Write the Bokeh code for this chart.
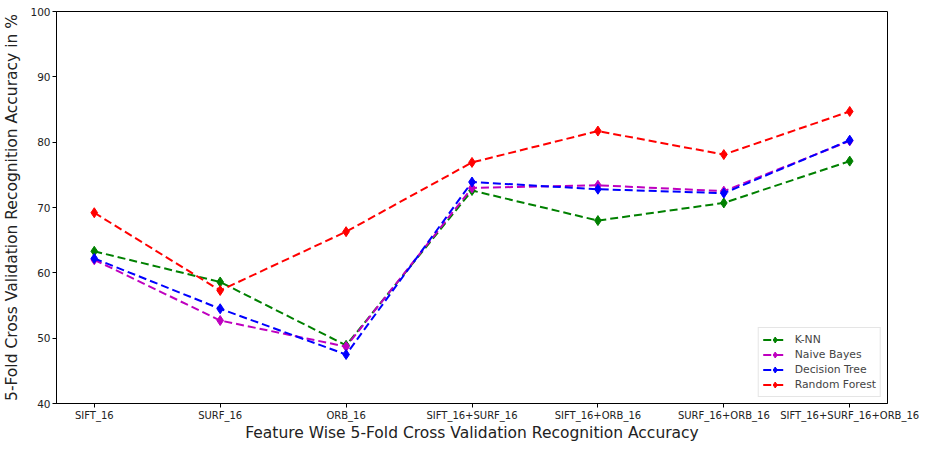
from bokeh.plotting import figure
from bokeh.models import Range1d, FixedTicker, Legend, LegendItem
from bokeh.embed import file_html
from bokeh.resources import INLINE

categories = ["SIFT_16", "SURF_16", "ORB_16", "SIFT_16+SURF_16",
              "SIFT_16+ORB_16", "SURF_16+ORB_16", "SIFT_16+SURF_16+ORB_16"]
knn = [63.3, 58.6, 48.9, 72.6, 68.0, 70.7, 77.1]
naive_bayes = [62.0, 52.7, 48.7, 73.0, 73.4, 72.5, 80.2]
decision_tree = [62.2, 54.5, 47.5, 73.9, 72.8, 72.2, 80.3]
random_forest = [69.2, 57.3, 66.3, 76.9, 81.7, 78.1, 84.7]
y_ticks = [40, 50, 60, 70, 80, 90, 100]

series = [("K-NN", knn, "#008000"),
          ("Naive Bayes", naive_bayes, "#bf00bf"),
          ("Decision Tree", decision_tree, "#0000ff"),
          ("Random Forest", random_forest, "#ff0000")]

xs = list(range(len(categories)))
FONT = "DejaVu Sans"

p = figure(width=919, height=444, output_backend="svg", toolbar_location=None,
           x_range=Range1d(-0.3, len(categories) - 1 + 0.3),
           y_range=Range1d(40, 100),
           min_border_left=55, min_border_top=11, min_border_right=32, min_border_bottom=34)
p.xgrid.visible = False
p.ygrid.visible = False
p.outline_line_color = "black"
p.outline_line_width = 1
p.background_fill_color = "white"
p.border_fill_color = "white"

items = []
for name, vals, col in series:
    r1 = p.line(xs, vals, line_color=col, line_width=2, line_dash="8 4")
    r2 = p.scatter(xs, vals, marker="diamond", size=10, fill_color=col, line_color=col)
    items.append(LegendItem(label=name, renderers=[r1, r2]))

p.xaxis.ticker = FixedTicker(ticks=xs)
p.xaxis.major_label_overrides = {i: c for i, c in enumerate(categories)}
p.yaxis.ticker = FixedTicker(ticks=y_ticks)

for ax in (p.xaxis[0], p.yaxis[0]):
    ax.axis_line_color = "black"
    ax.major_tick_line_color = "black"
    ax.major_tick_out = 4
    ax.major_tick_in = 0
    ax.minor_tick_out = 0
    ax.minor_tick_in = 0
    ax.major_label_text_font = FONT
    ax.major_label_text_font_size = "10px"
    ax.major_label_text_color = "#222222"
    ax.major_label_text_line_height = 1.0
    ax.axis_label_text_font = FONT
    ax.axis_label_text_font_size = "15.5px"
    ax.axis_label_text_font_style = "normal"
    ax.axis_label_text_color = "#222222"
    ax.axis_label_text_line_height = 1.0
    ax.major_label_standoff = 2

p.yaxis.major_label_text_font_size = "10.5px"
p.xaxis.axis_label = "Feature Wise 5-Fold Cross Validation Recognition Accuracy"
p.yaxis.axis_label = "5-Fold Cross Validation Recognition Accuracy in %"
p.xaxis.axis_label_standoff = 0
p.yaxis.axis_label_standoff = 6

legend = Legend(items=items, location="bottom_right", margin=6, padding=4, spacing=0,
                label_height=15, glyph_height=15, glyph_width=24, label_standoff=8,
                label_text_font=FONT, label_text_font_size="10.8px",
                border_line_color="#cccccc", border_line_width=1,
                background_fill_alpha=0.8)
p.add_layout(legend)

open("out.html", "w").write(file_html(p, INLINE))
